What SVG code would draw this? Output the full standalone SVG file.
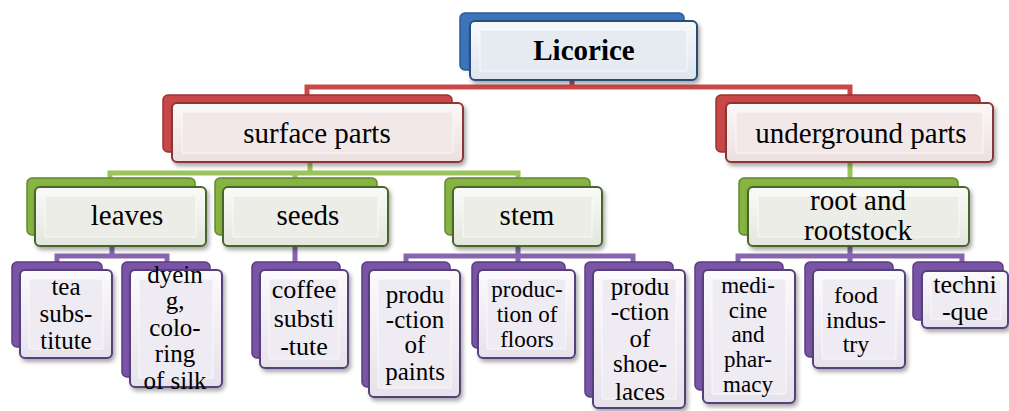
<svg xmlns="http://www.w3.org/2000/svg" width="1009" height="411" viewBox="0 0 1009 411">
<defs>
<filter id="sh" x="-20%" y="-20%" width="140%" height="140%">
<feDropShadow dx="2" dy="3" stdDeviation="2" flood-color="#000" flood-opacity="0.35"/>
</filter>
<linearGradient id="gBlue" x1="0" y1="0" x2="0" y2="1"><stop offset="0" stop-color="#f7f9fc"/><stop offset="1" stop-color="#dfe5ee"/></linearGradient>
<linearGradient id="gRed" x1="0" y1="0" x2="0" y2="1"><stop offset="0" stop-color="#fcf8f8"/><stop offset="1" stop-color="#ecdfdf"/></linearGradient>
<linearGradient id="gGreen" x1="0" y1="0" x2="0" y2="1"><stop offset="0" stop-color="#fafbf8"/><stop offset="1" stop-color="#e3e6dc"/></linearGradient>
<linearGradient id="gPurple" x1="0" y1="0" x2="0" y2="1"><stop offset="0" stop-color="#fbfafc"/><stop offset="1" stop-color="#e6e2ec"/></linearGradient>
</defs>
<style>
text{font-family:"Liberation Serif","Times New Roman",serif;fill:#000;text-anchor:middle}
.t29{font-size:29px}
.t26{font-size:26px}
.t25{font-size:25px}
.t24{font-size:24px}
.t23{font-size:23px}
.b{font-weight:bold}
.con{fill:none;stroke-width:5;stroke-linejoin:miter}
.cr{stroke:#c9494b}
.cg{stroke:#9cc45a}
.cp{stroke:#8766ae}
.bk{stroke-width:1.5}
.fr{stroke-width:2;filter:url(#sh)}
.in{stroke:#ffffff;stroke-opacity:0.7;stroke-width:1}
.blue .bk{fill:#3b74bb;stroke:#2d5a92}
.blue .fr{fill:url(#gBlue);stroke:#2b4d78}
.blue .in{fill:#e6ebf2}
.red .bk{fill:#c8484a;stroke:#a03030}
.red .fr{fill:url(#gRed);stroke:#8c3434}
.red .in{fill:#f2e8e8}
.green .bk{fill:#86b342;stroke:#5f8a2c}
.green .fr{fill:url(#gGreen);stroke:#4a6629}
.green .in{fill:#ebede6}
.purple .bk{fill:#7a55a6;stroke:#5b3d86}
.purple .fr{fill:url(#gPurple);stroke:#56407c}
.purple .in{fill:#eeebf2}
</style>
<rect width="1009" height="411" fill="#ffffff"/>
<g id="connectors">
<path class="con cr" d="M572,80 V87 M307,95 V87 H850 V95"/>
<path class="con cg" d="M310,162 V173 M110,180 V173 H518 V180 M295,173 V180 M850,162 V180"/>
<path class="con cp" d="M112,246 V256 M57,264 V256 H167 V264 M295,246 V264 M518,246 V264 M406,264 V256 H633 V264 M850,246 V264 M738,264 V256 H962 V264"/>
</g>
<g id="licorice" class="blue">
<rect class="bk" x="460" y="13" width="224" height="57" rx="5"/>
<rect class="fr" x="470" y="21" width="227" height="59" rx="5"/>
<rect class="in" x="480" y="30" width="207" height="41" rx="1"/>
<text class="t29 b" x="584" y="60">Licorice</text>
</g>
<g id="surface-parts" class="red">
<rect class="bk" x="163" y="95" width="289" height="57" rx="5"/>
<rect class="fr" x="172" y="103" width="291" height="59" rx="5"/>
<rect class="in" x="182" y="112" width="271" height="41" rx="1"/>
<text class="t29" x="317" y="143">surface parts</text>
</g>
<g id="underground-parts" class="red">
<rect class="bk" x="716" y="95" width="264" height="57" rx="5"/>
<rect class="fr" x="726" y="103" width="267" height="59" rx="5"/>
<rect class="in" x="736" y="112" width="247" height="41" rx="1"/>
<text class="t29" x="861" y="143">underground parts</text>
</g>
<g id="leaves" class="green">
<rect class="bk" x="27" y="178" width="168" height="57" rx="5"/>
<rect class="fr" x="35" y="187" width="171" height="59" rx="5"/>
<rect class="in" x="45" y="196" width="151" height="41" rx="1"/>
<text class="t29" x="127" y="225">leaves</text>
</g>
<g id="seeds" class="green">
<rect class="bk" x="215" y="178" width="162" height="57" rx="5"/>
<rect class="fr" x="223" y="187" width="165" height="59" rx="5"/>
<rect class="in" x="233" y="196" width="145" height="41" rx="1"/>
<text class="t29" x="308" y="225">seeds</text>
</g>
<g id="stem" class="green">
<rect class="bk" x="445" y="178" width="145" height="57" rx="5"/>
<rect class="fr" x="453" y="187" width="149" height="59" rx="5"/>
<rect class="in" x="463" y="196" width="129" height="41" rx="1"/>
<text class="t29" x="527" y="225">stem</text>
</g>
<g id="root-and-rootstock" class="green">
<rect class="bk" x="739" y="178" width="219" height="57" rx="5"/>
<rect class="fr" x="748" y="187" width="221" height="59" rx="5"/>
<rect class="in" x="758" y="196" width="201" height="41" rx="1"/>
<text class="t29" x="858"><tspan x="858" y="210">root and</tspan><tspan x="858" y="240">rootstock</tspan></text>
</g>
<g id="tea-substitute" class="purple">
<rect class="bk" x="12" y="262" width="90" height="85" rx="5"/>
<rect class="fr" x="20" y="270" width="92" height="88" rx="5"/>
<rect class="in" x="29" y="279" width="74" height="70" rx="1"/>
<text class="t25"><tspan x="66" y="295">tea</tspan><tspan x="66" y="322">subs-</tspan><tspan x="66" y="349">titute</tspan></text>
</g>
<g id="dyeing" class="purple">
<rect class="bk" x="122" y="262" width="88" height="115" rx="5"/>
<rect class="fr" x="130" y="270" width="92" height="117" rx="5"/>
<rect class="in" x="139" y="279" width="74" height="99" rx="1"/>
<text class="t25"><tspan x="175" y="283">dyein</tspan><tspan x="175" y="309">g,</tspan><tspan x="175" y="336">colo-</tspan><tspan x="175" y="362">ring</tspan><tspan x="175" y="389">of silk</tspan></text>
</g>
<g id="coffee-substitute" class="purple">
<rect class="bk" x="252" y="262" width="88" height="96" rx="5"/>
<rect class="fr" x="260" y="270" width="88" height="98" rx="5"/>
<rect class="in" x="269" y="279" width="70" height="80" rx="1"/>
<text class="t26"><tspan x="304" y="298">coffee</tspan><tspan x="304" y="327">substi</tspan><tspan x="304" y="355">-tute</tspan></text>
</g>
<g id="production-of-paints" class="purple">
<rect class="bk" x="362" y="262" width="88" height="125" rx="5"/>
<rect class="fr" x="369" y="270" width="91" height="127" rx="5"/>
<rect class="in" x="378" y="279" width="73" height="109" rx="1"/>
<text class="t25"><tspan x="415" y="303">produ</tspan><tspan x="415" y="328">-ction</tspan><tspan x="415" y="353">of</tspan><tspan x="415" y="380">paints</tspan></text>
</g>
<g id="production-of-floors" class="purple">
<rect class="bk" x="472" y="262" width="93" height="86" rx="5"/>
<rect class="fr" x="478" y="270" width="97" height="88" rx="5"/>
<rect class="in" x="487" y="279" width="79" height="70" rx="1"/>
<text class="t23"><tspan x="527" y="297">produc-</tspan><tspan x="527" y="322">tion of</tspan><tspan x="527" y="347">floors</tspan></text>
</g>
<g id="production-of-shoelaces" class="purple">
<rect class="bk" x="585" y="262" width="88" height="135" rx="5"/>
<rect class="fr" x="593" y="270" width="92" height="138" rx="5"/>
<rect class="in" x="602" y="279" width="74" height="120" rx="1"/>
<text class="t25"><tspan x="640" y="295">produ</tspan><tspan x="640" y="320">-ction</tspan><tspan x="640" y="347">of</tspan><tspan x="640" y="372">shoe-</tspan><tspan x="640" y="400">laces</tspan></text>
</g>
<g id="medicine-and-pharmacy" class="purple">
<rect class="bk" x="695" y="262" width="88" height="128" rx="5"/>
<rect class="fr" x="703" y="270" width="92" height="133" rx="5"/>
<rect class="in" x="712" y="279" width="74" height="115" rx="1"/>
<text class="t23"><tspan x="748" y="293">medi-</tspan><tspan x="748" y="318">cine</tspan><tspan x="748" y="342">and</tspan><tspan x="748" y="367">phar-</tspan><tspan x="748" y="392">macy</tspan></text>
</g>
<g id="food-industry" class="purple">
<rect class="bk" x="805" y="262" width="88" height="95" rx="5"/>
<rect class="fr" x="813" y="270" width="92" height="98" rx="5"/>
<rect class="in" x="822" y="279" width="74" height="80" rx="1"/>
<text class="t24"><tspan x="856" y="303">food</tspan><tspan x="856" y="328">indus-</tspan><tspan x="856" y="352">try</tspan></text>
</g>
<g id="technique" class="purple">
<rect class="bk" x="913" y="262" width="90" height="58" rx="5"/>
<rect class="fr" x="922" y="271" width="86" height="57" rx="5"/>
<rect class="in" x="931" y="280" width="70" height="39" rx="1"/>
<text class="t26"><tspan x="965" y="293">techni</tspan><tspan x="965" y="320">-que</tspan></text>
</g>
</svg>
